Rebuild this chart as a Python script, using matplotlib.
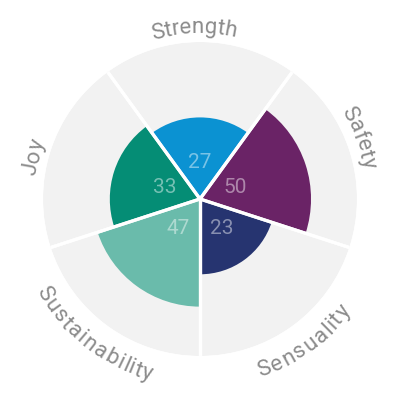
import numpy as np
import matplotlib
matplotlib.use("Agg")
import matplotlib.pyplot as plt
from matplotlib.font_manager import FontProperties
from matplotlib.textpath import TextToPath

categories = ["Strength", "Safety", "Sensuality", "Sustainability", "Joy"]
values = [27, 50, 23, 47, 33]
center_angles = [90, 18, 306, 234, 162]
label_angles = [92, 21, 306, 232, 166]
colors = ["#0b92d2", "#6a2366", "#263470", "#6abbab", "#058d75"]
max_value = 100

W, H, DPI = 400, 400, 100
cx, cy = 200, 201          # centre in pixels (from bottom-left)
R = 157                    # outer radius in pixels

fig = plt.figure(figsize=(W / DPI, H / DPI), dpi=DPI, facecolor="white")
ax = fig.add_axes([(cx - R) / W, (cy - R) / H, 2 * R / W, 2 * R / H], projection="polar")
ax.set_axis_off()
rmax = np.sqrt(max_value)
ax.set_ylim(0, rmax)

theta = np.deg2rad(center_angles)
width = np.deg2rad(72)
ax.bar(theta, [rmax] * len(values), width=width, color="#f2f2f2", edgecolor="none")
ax.bar(theta, np.sqrt(values), width=width, color=colors, edgecolor="none")
for t in theta:
    for b in (t - width / 2, t + width / 2):
        ax.plot([b, b], [0, rmax], color="white", lw=2.3, solid_capstyle="butt")

for t, v in zip(theta, values):
    ax.text(t, 37 / R * rmax, str(v), ha="center", va="center", color="white", alpha=0.45,
            fontsize=15, family="Roboto")

prop = FontProperties(family="Roboto", weight="normal", size=16)
ttp = TextToPath()

def tw(s):
    if not s:
        return 0.0
    return ttp.get_text_width_height_descent(s, prop, ismath=False)[0] * DPI / 72.0

def curved(text, ang_deg, top):
    spacing = 1.0 if top else 1.14
    total = tw(text) * spacing
    r = 166 if top else 188
    ac = np.deg2rad(ang_deg)
    for i, ch in enumerate(text):
        pos = (tw(text[:i]) + tw(text[:i + 1])) / 2.0 * spacing
        off = (total / 2.0 - pos) / r
        a = ac + off if top else ac - off
        rot = np.rad2deg(a) - 90 if top else np.rad2deg(a) + 90
        x = cx + r * np.cos(a)
        y = cy + r * np.sin(a)
        fig.text(x / W, y / H, ch, fontproperties=prop, color="#8c8c8c",
                 ha="center", va="baseline", rotation=rot, rotation_mode="anchor")

for name, ang in zip(categories, label_angles):
    top = 0 <= ang <= 180
    curved(name, ang, top)

fig.savefig("out.png", dpi=DPI, facecolor="white")
